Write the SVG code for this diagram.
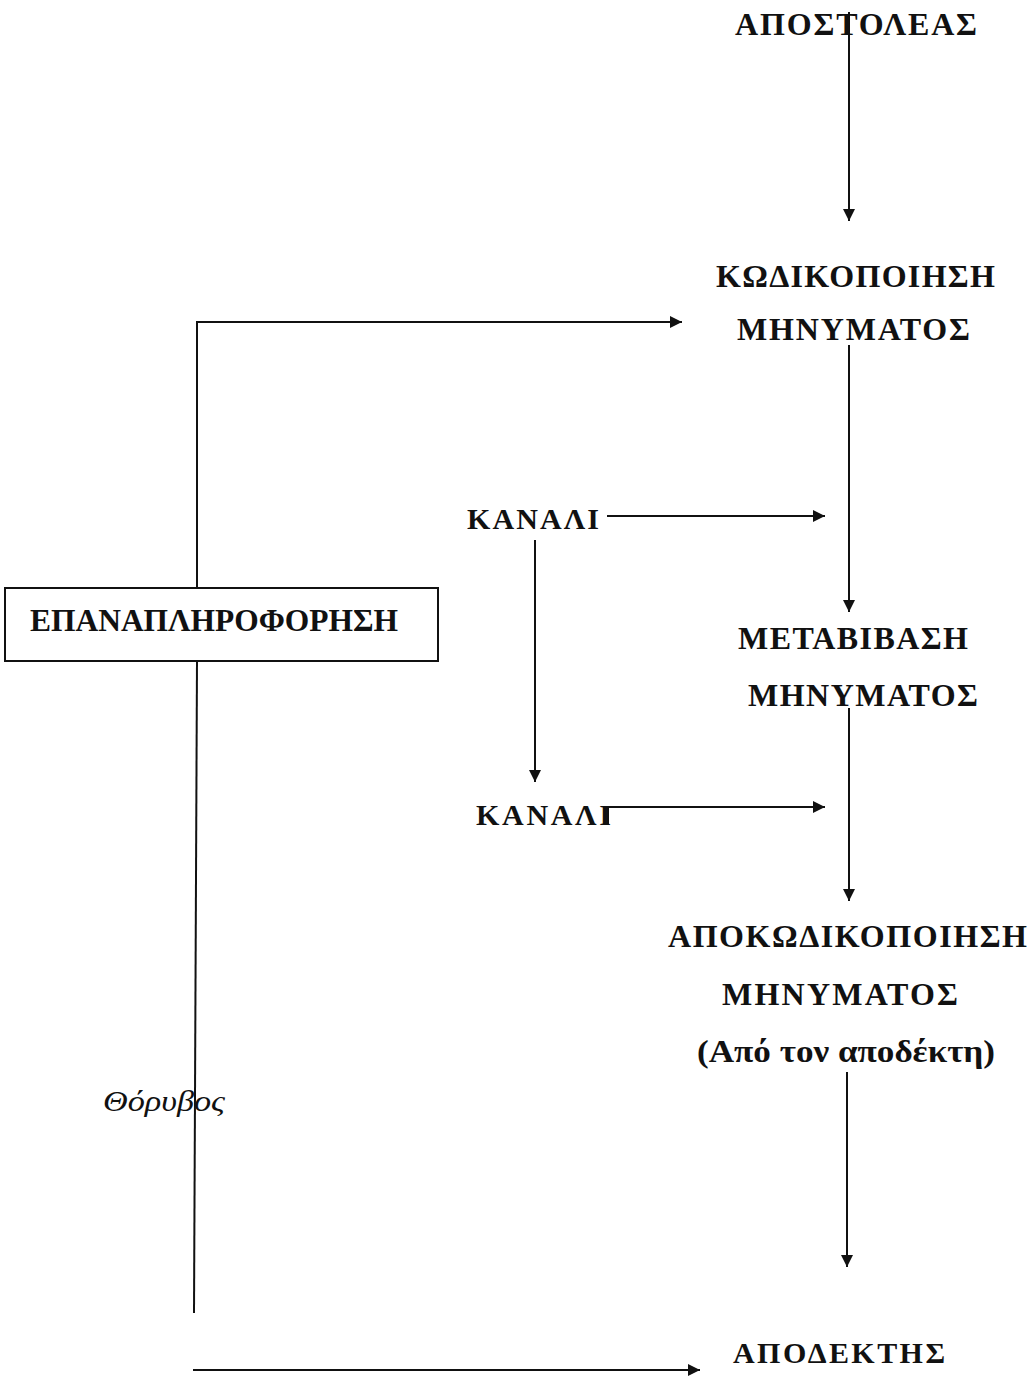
<svg xmlns="http://www.w3.org/2000/svg" width="1031" height="1376" viewBox="0 0 1031 1376">
<style>
.t{font-family:"Liberation Serif","DejaVu Serif",serif;font-weight:bold;font-size:32px;fill:#111}
.s{font-size:30px}
.i{font-family:"Liberation Serif","DejaVu Serif",serif;font-style:italic;font-size:29px;fill:#111}
.ln{stroke:#111;stroke-width:2;fill:none}
</style>
<defs>
<marker id="ah" viewBox="0 0 10 10" refX="10" refY="5" markerWidth="6.5" markerHeight="6" markerUnits="strokeWidth" orient="auto">
<path d="M0,0 L10,5 L0,10 z" fill="#111"/>
</marker>
</defs>
<rect width="1031" height="1376" fill="#fff"/>
<g id="connectors">
<line class="ln" x1="849" y1="12" x2="849" y2="221" marker-end="url(#ah)"/>
<line class="ln" x1="849" y1="345" x2="849" y2="612" marker-end="url(#ah)"/>
<line class="ln" x1="849" y1="708" x2="849" y2="901" marker-end="url(#ah)"/>
<line class="ln" x1="847" y1="1072" x2="847" y2="1267" marker-end="url(#ah)"/>
<line class="ln" x1="535" y1="540" x2="535" y2="782" marker-end="url(#ah)"/>
<line class="ln" x1="607" y1="516" x2="825" y2="516" marker-end="url(#ah)"/>
<polyline class="ln" points="608,825 608,807 825,807" marker-end="url(#ah)"/>
<polyline class="ln" points="197,588 197,322 682,322" marker-end="url(#ah)"/>
<line class="ln" x1="197" y1="661" x2="194" y2="1313"/>
<line class="ln" x1="193" y1="1370" x2="700" y2="1370" marker-end="url(#ah)"/>
</g>
<g id="sender"><text class="t" x="735" y="35" textLength="242" lengthAdjust="spacing">ΑΠΟΣΤΟΛΕΑΣ</text></g>
<g id="encoding">
<text class="t" x="716" y="287" textLength="279" lengthAdjust="spacing">ΚΩΔΙΚΟΠΟΙΗΣΗ</text>
<text class="t" x="737" y="340" textLength="233" lengthAdjust="spacing">ΜΗΝΥΜΑΤΟΣ</text>
</g>
<g id="channel1"><text class="t s" x="467" y="529" textLength="132" lengthAdjust="spacing">ΚΑΝΑΛΙ</text></g>
<g id="feedback">
<rect x="5" y="588" width="433" height="73" fill="none" stroke="#111" stroke-width="2"/>
<text class="t" x="30" y="631" textLength="368" lengthAdjust="spacingAndGlyphs">ΕΠΑΝΑΠΛΗΡΟΦΟΡΗΣΗ</text>
</g>
<g id="transmission">
<text class="t" x="738" y="649" textLength="230" lengthAdjust="spacing">ΜΕΤΑΒΙΒΑΣΗ</text>
<text class="t" x="748" y="706" textLength="230" lengthAdjust="spacing">ΜΗΝΥΜΑΤΟΣ</text>
</g>
<g id="channel2"><text class="t s" x="476" y="825" textLength="135" lengthAdjust="spacing">ΚΑΝΑΛΙ</text></g>
<g id="decoding">
<text class="t" x="668" y="947" textLength="359" lengthAdjust="spacing">ΑΠΟΚΩΔΙΚΟΠΟΙΗΣΗ</text>
<text class="t" x="722" y="1005" textLength="236" lengthAdjust="spacing">ΜΗΝΥΜΑΤΟΣ</text>
<text class="t" x="697" y="1062" textLength="298" lengthAdjust="spacingAndGlyphs">(Από τον αποδέκτη)</text>
</g>
<g id="noise"><text class="i" x="103" y="1111" textLength="122" lengthAdjust="spacingAndGlyphs">Θόρυβος</text></g>
<g id="receiver"><text class="t s" x="733" y="1363" textLength="212" lengthAdjust="spacing">ΑΠΟΔΕΚΤΗΣ</text></g>
</svg>
